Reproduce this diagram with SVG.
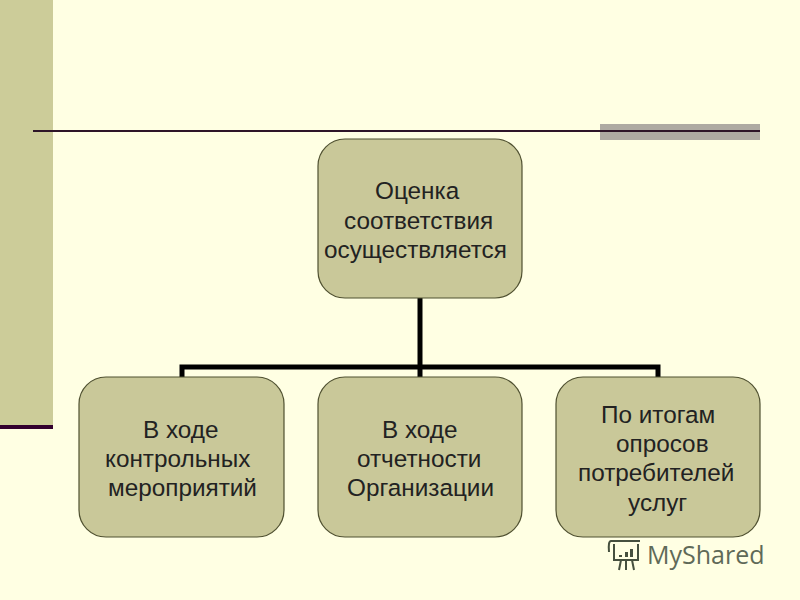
<svg xmlns="http://www.w3.org/2000/svg" width="800" height="600" viewBox="0 0 800 600">
<style>
.box{fill:#c9c899;stroke:#4f5030;stroke-width:1.2}
.t{font-family:"Liberation Sans",Arial,sans-serif;font-size:24.3px;fill:#222}
.c{fill:none;stroke:#000;stroke-width:5}
</style>
<rect width="800" height="600" fill="#ffffe3"/>
<rect x="0" y="0" width="53" height="427" fill="#cccc99"/>
<rect x="0" y="425" width="53" height="4" fill="#33002e"/>
<rect x="600" y="124" width="160" height="16" fill="#aeaaa2"/>
<rect x="33" y="130" width="727" height="2" fill="#2e1528"/>
<g id="connectors">
<path class="c" d="M420 298V377"/>
<path class="c" d="M182 377V367H658V377"/>
</g>
<g id="node-top">
<rect class="box" x="318" y="139" width="204" height="159" rx="27"/>
<text class="t" x="375" y="199">Оценка</text>
<text class="t" x="344" y="229">соответствия</text>
<text class="t" x="324" y="258">осуществляется</text>
</g>
<g id="node-left">
<rect class="box" x="79" y="377" width="205" height="160" rx="27"/>
<text class="t" x="143" y="438">В ходе</text>
<text class="t" x="105" y="467">контрольных</text>
<text class="t" x="108" y="496">мероприятий</text>
</g>
<g id="node-middle">
<rect class="box" x="318" y="377" width="204" height="160" rx="27"/>
<text class="t" x="382" y="438">В ходе</text>
<text class="t" x="357" y="467">отчетности</text>
<text class="t" x="347" y="496">Организации</text>
</g>
<g id="node-right">
<rect class="box" x="556" y="377" width="204" height="160" rx="27"/>
<text class="t" x="601" y="423">По итогам</text>
<text class="t" x="616" y="452">опросов</text>
<text class="t" x="578" y="481">потребителей</text>
<text class="t" x="628" y="511">услуг</text>
</g>
<g id="watermark">
<path d="M611 541H640M611 541Q608 541 609 552M614 544V560H638V544M621 560L619 570M626 560V570M632 560L634 570" fill="none" stroke="#46503e" stroke-width="2"/>
<path d="M619 555h3v2h-3zM625 552h3v5h-3zM630 549h3v8h-3z" fill="#46503e"/>
<text x="647" y="564" font-family="'Open Sans','Noto Sans',sans-serif" font-size="25" fill="#5f6a58">MyShared</text>
</g>
</svg>
